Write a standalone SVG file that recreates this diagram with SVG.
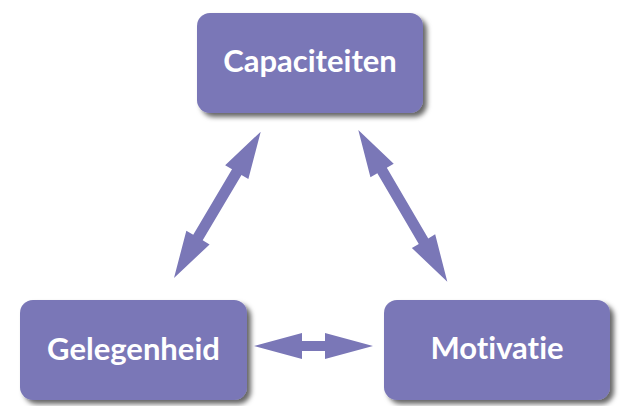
<svg xmlns="http://www.w3.org/2000/svg" width="620" height="406" viewBox="0 0 620 406">
<defs>
<filter id="sh" x="-10%" y="-10%" width="130%" height="140%">
<feDropShadow dx="4" dy="4" stdDeviation="2.5" flood-color="#000" flood-opacity="0.6"/>
</filter>
<style>
.box{fill:#7a77b7;filter:url(#sh)}
.lbl{fill:#fff;font-family:Lato,"Open Sans","DejaVu Sans",sans-serif;font-weight:bold;font-size:31px;text-anchor:middle;font-variant-ligatures:none;font-feature-settings:"liga" 0}
.arr{fill:#7a77b7}
</style>
</defs>
<rect width="620" height="406" fill="#fff"/>
<g id="connectors">
<path class="arr" transform="translate(174,278) rotate(-59.35)" d="M0,0 L47,-13.5 L47,-5.5 L123.1,-5.5 L123.1,-13.5 L170.1,0 L123.1,13.5 L123.1,5.5 L47,5.5 L47,13.5 Z"/>
<path class="arr" transform="translate(358.3,130) rotate(59.6)" d="M0,0 L47,-13.5 L47,-5.5 L128.9,-5.5 L128.9,-13.5 L175.9,0 L128.9,13.5 L128.9,5.5 L47,5.5 L47,13.5 Z"/>
<path class="arr" transform="translate(254,346)" d="M0,0 L48,-13 L48,-5 L71,-5 L71,-13 L119,0 L71,13 L71,5 L48,5 L48,13 Z"/>
</g>
<g id="capaciteiten">
<rect class="box" x="197" y="13" width="226" height="100" rx="13"/>
<text class="lbl" x="310" y="72">Capaciteiten</text>
</g>
<g id="gelegenheid">
<rect class="box" x="20" y="300" width="227" height="100" rx="13"/>
<text class="lbl" x="133.5" y="360">Gelegenheid</text>
</g>
<g id="motivatie">
<rect class="box" x="384" y="300" width="226" height="100" rx="13"/>
<text class="lbl" x="497" y="359">Motivatie</text>
</g>
</svg>
